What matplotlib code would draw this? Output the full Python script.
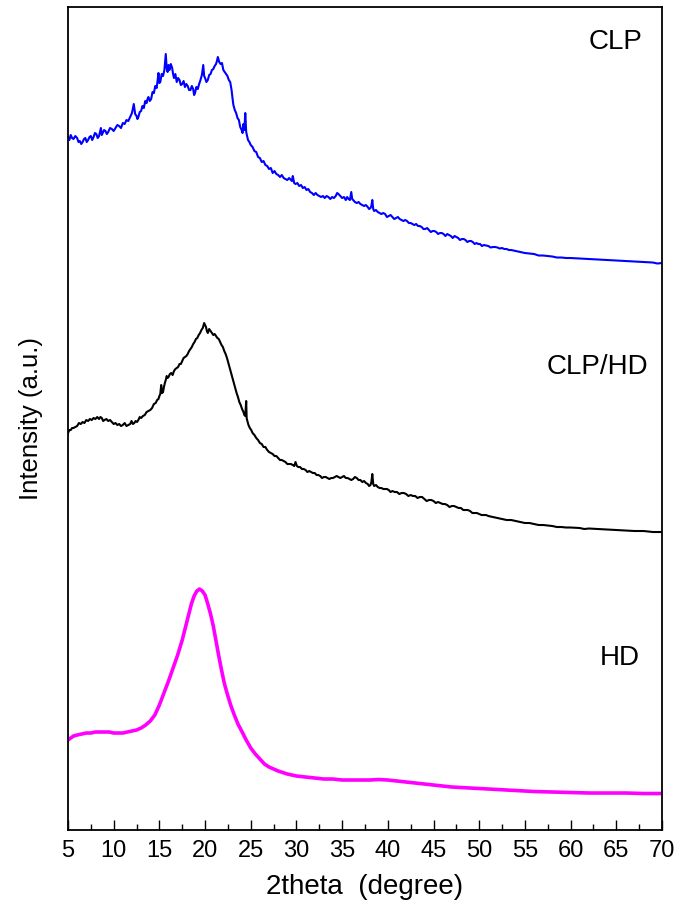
import numpy as np
import matplotlib
matplotlib.use("Agg")
import matplotlib.pyplot as plt
from matplotlib.ticker import MultipleLocator

plt.rcParams['font.family'] = ['Liberation Sans', 'DejaVu Sans']

# XRD patterns (2theta in degree, stacked intensity in a.u.)
clp = np.array([
    (5.0, 693), (5.15, 690), (5.3, 695), (5.45, 692), (5.6, 691), (5.8, 694), (6.0, 692), (6.15, 688),
    (6.3, 689), (6.45, 686), (6.6, 688), (6.75, 691), (6.9, 692), (7.05, 688), (7.2, 690), (7.35, 693),
    (7.5, 694), (7.65, 690), (7.8, 693), (7.95, 697), (8.1, 696), (8.25, 692), (8.4, 694), (8.6, 702),
    (8.7, 695), (8.8, 697), (8.95, 700), (9.1, 699), (9.25, 696), (9.4, 698), (9.6, 702), (9.8, 701),
    (10.0, 699), (10.2, 702), (10.4, 705), (10.6, 704), (10.8, 702), (11.0, 707), (11.2, 706), (11.4, 710),
    (11.6, 709), (11.8, 713), (12.0, 717), (12.2, 726), (12.35, 716), (12.5, 714), (12.6, 711), (12.7, 713),
    (12.85, 718), (13.0, 719), (13.15, 724), (13.3, 722), (13.45, 729), (13.6, 727), (13.7, 731), (13.8, 733),
    (13.95, 729), (14.1, 731), (14.25, 738), (14.4, 737), (14.55, 744), (14.7, 742), (14.8, 749), (14.9, 757),
    (15.0, 747), (15.1, 748), (15.25, 756), (15.4, 754), (15.55, 760), (15.7, 776), (15.8, 762), (15.9, 758),
    (16.0, 765), (16.1, 760), (16.25, 766), (16.4, 762), (16.5, 756), (16.6, 752), (16.75, 756), (16.9, 748),
    (17.05, 752), (17.2, 750), (17.35, 745), (17.5, 746), (17.65, 749), (17.8, 743), (17.95, 746), (18.1, 744),
    (18.25, 740), (18.4, 740), (18.55, 744), (18.7, 741), (18.8, 735), (18.9, 737), (19.05, 743), (19.2, 741),
    (19.35, 746), (19.5, 750), (19.65, 755), (19.8, 765), (19.9, 754), (20.0, 752), (20.15, 748), (20.3, 750),
    (20.45, 755), (20.6, 756), (20.75, 760), (20.9, 761), (21.05, 764), (21.2, 766), (21.3, 769), (21.4, 773),
    (21.55, 768), (21.7, 766), (21.85, 767), (22.0, 760), (22.15, 758), (22.3, 756), (22.45, 754), (22.6, 750),
    (22.75, 748), (22.9, 740), (23.0, 732), (23.1, 725), (23.25, 720), (23.4, 717), (23.55, 712), (23.7, 710),
    (23.85, 703), (24.0, 700), (24.1, 697), (24.2, 706), (24.3, 700), (24.4, 717), (24.5, 698), (24.6, 694),
    (24.7, 690), (24.85, 688), (25.0, 685), (25.2, 683), (25.4, 679), (25.6, 678), (25.8, 673), (26.0, 672),
    (26.2, 668), (26.4, 669), (26.6, 665), (26.8, 664), (27.0, 661), (27.2, 662), (27.4, 657), (27.6, 659),
    (27.8, 656), (28.0, 655), (28.2, 653), (28.4, 655), (28.6, 652), (28.8, 651), (29.0, 650), (29.2, 652),
    (29.4, 650), (29.5, 649), (29.6, 654), (29.75, 647), (29.9, 646), (30.1, 647), (30.3, 644), (30.5, 645),
    (30.7, 642), (30.9, 643), (31.1, 640), (31.3, 641), (31.5, 638), (31.7, 637), (31.9, 635), (32.1, 637),
    (32.3, 635), (32.5, 634), (32.7, 633), (32.9, 634), (33.1, 632), (33.3, 634), (33.5, 633), (33.7, 631),
    (33.9, 633), (34.1, 632), (34.3, 634), (34.45, 637), (34.6, 636), (34.8, 634), (35.0, 632), (35.2, 633),
    (35.4, 630), (35.55, 633), (35.7, 631), (35.85, 630), (36.0, 638), (36.1, 631), (36.2, 630), (36.4, 628),
    (36.6, 627), (36.8, 628), (37.0, 626), (37.2, 625), (37.4, 624), (37.6, 625), (37.8, 623), (37.95, 621),
    (38.1, 622), (38.2, 624), (38.3, 630), (38.4, 621), (38.5, 619), (38.7, 620), (38.9, 618), (39.1, 617),
    (39.3, 616), (39.5, 617), (39.7, 616), (39.9, 613), (40.1, 614), (40.3, 615), (40.5, 613), (40.7, 611),
    (40.9, 612), (41.1, 613), (41.3, 611), (41.5, 610), (41.7, 609), (41.9, 610), (42.1, 609), (42.3, 607),
    (42.5, 607), (42.7, 606), (42.9, 605), (43.1, 606), (43.3, 604), (43.5, 604), (43.7, 603), (43.9, 601),
    (44.1, 601), (44.3, 602), (44.5, 600), (44.7, 598), (44.9, 599), (45.1, 599), (45.3, 598), (45.5, 596),
    (45.7, 597), (45.9, 597), (46.1, 596), (46.3, 594), (46.5, 596), (46.7, 595), (46.9, 594), (47.1, 592),
    (47.3, 594), (47.5, 593), (47.7, 592), (47.9, 590), (48.1, 591), (48.3, 591), (48.5, 590), (48.7, 588),
    (48.9, 589), (49.1, 589), (49.3, 588), (49.5, 586), (49.7, 587), (49.9, 586), (50.1, 586), (50.3, 584),
    (50.5, 585), (50.75, 584.5), (51.0, 584), (51.25, 582.5), (51.5, 583), (51.75, 583), (52.0, 582.5),
    (52.25, 581.5), (52.5, 582), (52.75, 581), (53.0, 581), (53.25, 580), (53.5, 580), (53.75, 579.5),
    (54.0, 579), (54.5, 578), (55.0, 577), (55.5, 576.5), (56.0, 576), (56.5, 574.5), (57.0, 574.5),
    (57.5, 574), (58.0, 573.5), (58.5, 572.5), (59.0, 572.5), (59.5, 572), (60.0, 572), (61.0, 571.5),
    (62.0, 571), (63.0, 570.5), (64.0, 570), (65.0, 569.5), (66.0, 569), (67.0, 568.5), (68.0, 568),
    (69.0, 567.5), (69.5, 566.5), (70.0, 567),
])

clp_hd = np.array([
    (5.0, 397), (5.15, 400), (5.3, 400), (5.45, 402), (5.6, 402), (5.8, 403), (6.0, 404), (6.2, 407),
    (6.4, 406), (6.6, 408), (6.8, 407), (7.0, 410), (7.2, 409), (7.4, 411), (7.6, 410), (7.8, 412),
    (8.0, 411), (8.2, 413), (8.4, 411), (8.55, 413), (8.7, 412), (8.85, 409), (9.0, 410), (9.2, 411),
    (9.4, 409), (9.6, 410), (9.8, 408), (10.0, 406), (10.2, 407), (10.4, 405), (10.6, 406), (10.8, 404),
    (11.0, 405), (11.2, 407), (11.4, 404), (11.6, 405), (11.8, 406), (11.95, 409), (12.1, 406), (12.25, 407),
    (12.4, 409), (12.55, 408), (12.7, 410), (12.85, 413), (13.0, 412), (13.2, 414), (13.4, 415), (13.6, 418),
    (13.8, 419), (14.0, 420), (14.2, 422), (14.4, 426), (14.6, 427), (14.75, 430), (14.9, 431), (15.0, 434),
    (15.1, 436), (15.2, 445), (15.3, 437), (15.4, 438), (15.5, 443), (15.6, 447), (15.7, 450), (15.8, 454),
    (15.9, 452), (16.0, 453), (16.15, 456), (16.3, 457), (16.45, 455), (16.6, 459), (16.75, 461), (16.9, 462),
    (17.05, 463), (17.2, 466), (17.35, 466), (17.5, 469), (17.65, 472), (17.8, 473), (17.95, 474), (18.1, 476),
    (18.25, 479), (18.4, 481), (18.55, 483), (18.7, 486), (18.85, 488), (19.0, 491), (19.15, 492), (19.3, 495),
    (19.45, 497), (19.6, 500), (19.75, 502), (19.9, 507), (20.0, 505), (20.1, 503), (20.2, 499), (20.3, 497),
    (20.45, 501), (20.6, 499), (20.75, 497), (20.9, 495), (21.05, 496), (21.2, 494), (21.35, 492), (21.5, 491),
    (21.65, 488), (21.8, 485), (21.95, 483), (22.1, 479), (22.25, 476), (22.4, 472), (22.55, 467), (22.7, 462),
    (22.85, 457), (23.0, 452), (23.15, 447), (23.3, 442), (23.45, 437), (23.6, 433), (23.75, 428), (23.9, 425),
    (24.05, 421), (24.2, 418), (24.3, 415), (24.4, 414), (24.5, 429), (24.55, 412), (24.6, 410), (24.75, 405),
    (24.9, 402), (25.05, 400), (25.2, 397), (25.4, 395), (25.6, 392), (25.8, 390), (26.0, 387), (26.2, 386),
    (26.4, 383), (26.6, 383), (26.8, 380), (27.0, 378), (27.2, 377), (27.4, 376), (27.6, 374), (27.8, 374),
    (28.0, 372), (28.2, 370), (28.4, 370), (28.6, 369), (28.8, 368), (29.0, 366), (29.2, 366), (29.4, 366),
    (29.6, 365), (29.75, 364), (29.9, 368), (30.05, 364), (30.2, 363), (30.4, 363), (30.6, 361), (30.8, 361),
    (31.0, 360), (31.2, 358), (31.4, 359), (31.6, 358), (31.8, 357), (32.0, 357), (32.2, 355), (32.4, 355),
    (32.6, 354), (32.8, 352), (33.0, 353), (33.2, 353), (33.4, 352), (33.6, 351), (33.8, 352), (34.0, 352),
    (34.2, 353), (34.4, 354), (34.6, 353), (34.8, 352), (35.0, 353), (35.2, 354), (35.4, 352), (35.6, 352),
    (35.8, 351), (36.0, 350), (36.2, 351), (36.4, 353), (36.6, 352), (36.8, 350), (37.0, 350), (37.2, 348),
    (37.4, 349), (37.6, 347), (37.8, 346), (37.95, 344), (38.1, 345), (38.2, 348), (38.3, 356), (38.4, 346),
    (38.5, 344), (38.7, 345), (38.9, 343), (39.1, 342), (39.3, 342), (39.5, 341), (39.7, 341), (39.9, 341),
    (40.1, 340), (40.3, 338), (40.5, 339), (40.75, 338), (41.0, 338), (41.25, 336), (41.5, 337), (41.75, 337),
    (42.0, 336), (42.25, 334), (42.5, 335), (42.75, 334), (43.0, 334), (43.25, 332), (43.5, 333), (43.75, 333),
    (44.0, 331), (44.25, 329), (44.5, 330), (44.75, 330), (45.0, 329), (45.25, 327), (45.5, 328), (45.75, 327),
    (46.0, 326), (46.25, 326), (46.5, 325), (46.75, 323), (47.0, 324), (47.25, 324), (47.5, 323), (47.75, 322),
    (48.0, 322), (48.25, 320), (48.5, 320), (48.75, 320), (49.0, 319), (49.25, 317), (49.5, 317), (49.75, 317),
    (50.0, 316), (50.25, 315), (50.5, 315), (50.75, 315), (51.0, 314), (51.5, 313), (52.0, 312), (52.5, 311),
    (53.0, 310), (53.5, 310), (54.0, 309), (54.5, 308), (55.0, 307), (55.5, 307), (56.0, 306), (56.5, 305),
    (57.0, 305), (57.5, 304.5), (58.0, 304), (58.5, 303), (59.0, 303), (59.5, 302.5), (60.0, 302.5),
    (61.0, 302), (61.5, 301), (62.0, 301.5), (63.0, 301), (64.0, 300.5), (65.0, 300), (66.0, 299.5),
    (67.0, 299), (68.0, 299), (69.0, 298), (70.0, 298),
])

hd = np.array([
    (5.0, 90), (5.3, 92), (5.6, 94), (6.0, 95), (6.5, 96), (7.0, 97), (7.5, 97), (8.0, 98), (8.5, 98),
    (9.0, 98), (9.5, 98), (10.0, 97), (10.5, 97), (11.0, 97), (11.5, 98), (12.0, 99), (12.5, 100),
    (13.0, 102), (13.5, 105), (14.0, 109), (14.5, 115), (15.0, 125), (15.5, 137), (16.0, 149), (16.5, 162),
    (17.0, 175), (17.5, 190), (18.0, 208), (18.5, 226), (18.8, 234), (19.1, 239), (19.4, 241), (19.7, 239),
    (20.0, 235), (20.3, 226), (20.6, 216), (20.9, 204), (21.2, 189), (21.5, 174), (21.8, 160), (22.1, 147),
    (22.4, 137), (22.8, 125), (23.2, 115), (23.6, 106), (24.0, 99), (24.5, 90), (25.0, 82), (25.5, 76),
    (26.0, 71), (26.5, 66), (27.0, 63), (27.5, 61), (28.0, 59), (29.0, 56), (30.0, 54), (31.0, 53),
    (32.0, 52), (33.0, 51), (34.0, 51), (35.0, 50), (36.0, 50), (37.0, 50), (38.0, 50), (39.0, 50.5),
    (40.0, 50), (41.0, 49), (42.0, 48), (43.0, 47), (44.0, 46), (45.0, 45), (46.0, 44), (47.0, 43),
    (48.0, 42.5), (49.0, 42), (50.0, 41.5), (52.0, 40.5), (54.0, 39.5), (56.0, 38.5), (58.0, 38),
    (60.0, 37.5), (62.0, 37), (64.0, 37), (66.0, 37), (68.0, 36.5), (70.0, 36.5),
])

labels = ['CLP', 'CLP/HD', 'HD']
colors = ['#0000ff', 'black', '#ff00ff']
label_pos = [(64.9, 788), (62.9, 463), (65.4, 172)]

fig = plt.figure(figsize=(6.91, 9.11), dpi=100)
ax = fig.add_axes([0.0984, 0.0889, 0.8596, 0.9034])

for data, c, lw in zip([clp, clp_hd, hd], colors, [1.5, 1.5, 2.6]):
    ax.plot(data[:, 0], data[:, 1], color=c, lw=lw)

for txt, (x, y) in zip(labels, label_pos):
    ax.text(x, y, txt, fontsize=20, ha='center', va='center')

ax.set_xlim(5, 70)
ax.set_ylim(0, 823)
ax.xaxis.set_major_locator(MultipleLocator(5))
ax.xaxis.set_minor_locator(MultipleLocator(2.5))
ax.set_yticks([])
ax.tick_params(axis='x', which='major', direction='in', length=7, width=1.0, labelsize=17, pad=7)
ax.tick_params(axis='x', which='minor', direction='in', length=4, width=1.0)
for s in ax.spines.values():
    s.set_linewidth(1.3)

ax.set_xlabel('2theta  (degree)', fontsize=20, labelpad=9)
ax.set_ylabel('Intensity (a.u.)', fontsize=18.5)
ax.yaxis.set_label_coords(-0.042, 0.5)

fig.savefig('out.png', dpi=100)
